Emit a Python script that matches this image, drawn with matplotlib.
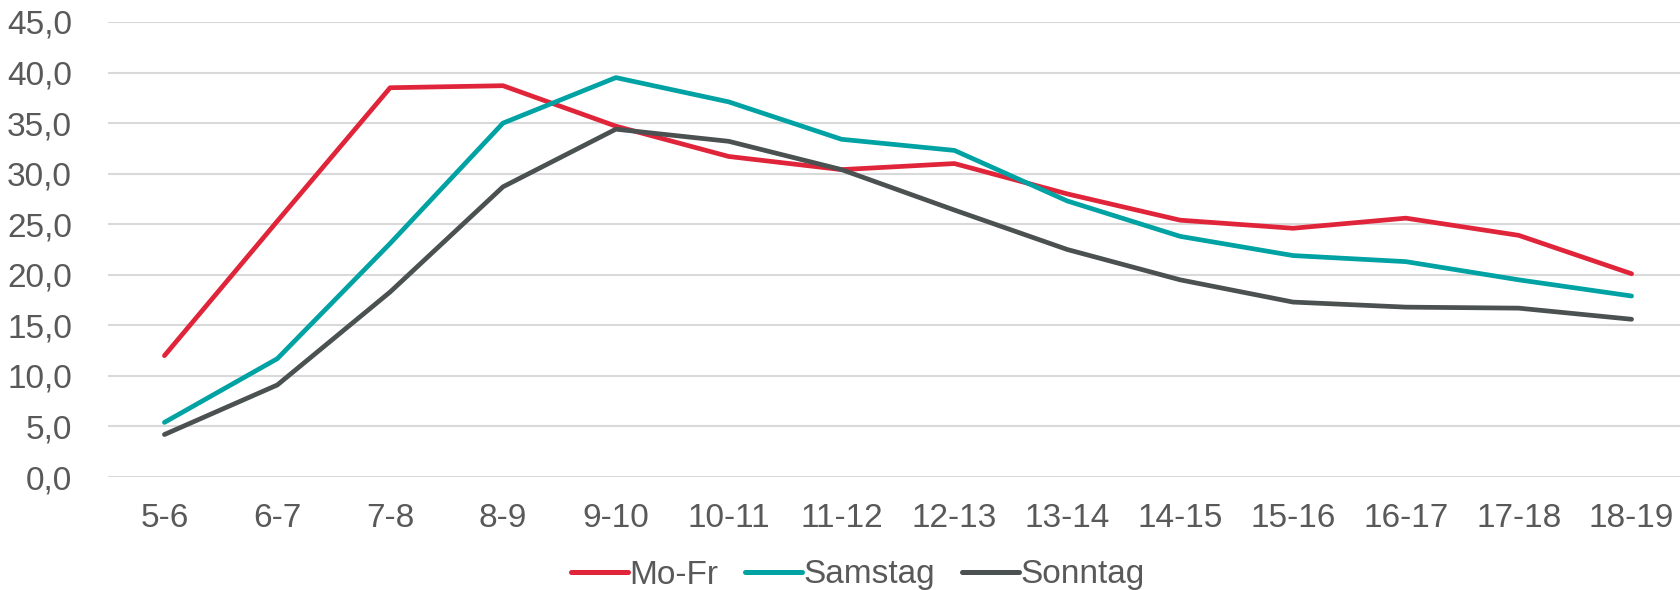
import matplotlib
matplotlib.use("Agg")
import matplotlib.pyplot as plt

plt.rcParams['font.family'] = ['Liberation Sans', 'DejaVu Sans']

hours = ['5-6', '6-7', '7-8', '8-9', '9-10', '10-11', '11-12', '12-13',
         '13-14', '14-15', '15-16', '16-17', '17-18', '18-19']
mo_fr = [12.0, 25.3, 38.5, 38.7, 34.7, 31.7, 30.4, 31.0,
         28.0, 25.4, 24.6, 25.6, 23.9, 20.1]
samstag = [5.4, 11.7, 23.1, 35.0, 39.5, 37.1, 33.4, 32.3,
           27.3, 23.8, 21.9, 21.3, 19.5, 17.9]
sonntag = [4.2, 9.1, 18.3, 28.7, 34.4, 33.2, 30.4, 26.4,
           22.5, 19.5, 17.3, 16.8, 16.7, 15.6]

series = [('Mo-Fr', mo_fr, '#E0243A'),
          ('Samstag', samstag, '#00A2A4'),
          ('Sonntag', sonntag, '#4A5150')]

W, H = 1680, 590
fig = plt.figure(figsize=(W / 100, H / 100), dpi=100)
ax = fig.add_axes([108 / W, 113 / H, (1688 - 108) / W, (477 - 22) / H])

x = range(len(hours))
for name, vals, col in series:
    ax.plot(x, vals, color=col, lw=3.4, label=name,
            solid_capstyle='round', solid_joinstyle='round')

ax.set_xlim(-0.5, len(hours) - 0.5)
ax.set_ylim(0, 45)
ax.set_yticks(range(0, 50, 5))
ax.set_yticklabels(['{:.1f}'.format(v).replace('.', ',') for v in range(0, 50, 5)])
ax.set_xticks(list(x))
ax.set_xticklabels(hours)

ax.grid(axis='y', color='#D9D9D9', lw=1.5)
ax.set_axisbelow(True)
for s in ax.spines.values():
    s.set_visible(False)
ax.tick_params(axis='both', length=0, labelsize=24, labelcolor='#595959')
ax.tick_params(axis='y', pad=26)
ax.tick_params(axis='x', pad=19)

leg = fig.legend(loc='center', bbox_to_anchor=(858 / W, 1 - 575 / H),
                 ncol=3, frameon=False, fontsize=24, handlelength=1.7,
                 handletextpad=0.05, columnspacing=0.8)
for line in leg.get_lines():
    line.set_linewidth(3.6)
for t in leg.get_texts():
    t.set_color('#595959')

fig.savefig('out.png', dpi=100)
